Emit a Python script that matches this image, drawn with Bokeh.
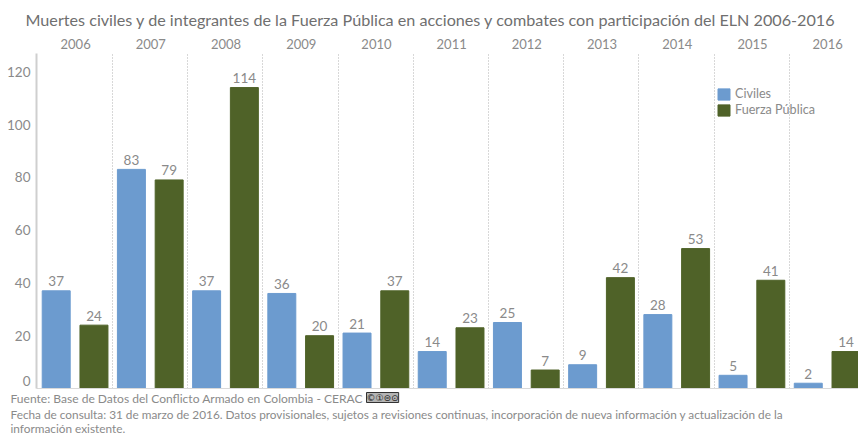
from bokeh.embed import file_html
from bokeh.models import (ColumnDataSource, FixedTicker, Grid, Legend, LegendItem,
                          LinearAxis, Range1d, Title)
from bokeh.plotting import figure
from bokeh.resources import INLINE

years = [2006, 2007, 2008, 2009, 2010, 2011, 2012, 2013, 2014, 2015, 2016]
civiles = [37, 83, 37, 36, 21, 14, 25, 9, 28, 5, 2]
fuerza_publica = [24, 79, 114, 20, 37, 23, 7, 42, 53, 41, 14]
y_ticks = [20, 40, 60, 80, 100, 120]

title_text = "Muertes civiles y de integrantes de la Fuerza Pública en acciones y combates con participación del ELN 2006-2016"
source_line = "Fuente: Base de Datos del Conflicto Armado en Colombia - CERAC"
note_lines = [
    "Fecha de consulta: 31 de marzo de 2016. Datos provisionales, sujetos a revisiones continuas, incorporación de nueva información y actualización de la",
    "información existente.",
]
badge_text = "©①⊜⊙"

FONT = "Lato"
GREY = "#8a8a8a"
BLUE = "#6c9bcf"
GREEN = "#4f6228"
W, H = 858, 435
FRAME_LEFT, FRAME_BOTTOM = 36, 388

p = figure(width=W, height=H, output_backend="svg", toolbar_location=None,
           x_range=Range1d(-0.01, 10.92), y_range=Range1d(0, 126.9),
           min_border_left=FRAME_LEFT, min_border_right=0, min_border_top=53,
           min_border_bottom=H - FRAME_BOTTOM, x_axis_location=None, y_axis_location=None)
p.title = None
p.outline_line_color = None
p.ygrid.visible = False
p.xgrid.visible = False

idx = list(range(len(years)))
blue_src = ColumnDataSource(dict(x=[i + 0.252 for i in idx], top=civiles, label=[str(v) for v in civiles]))
green_src = ColumnDataSource(dict(x=[i + 0.754 for i in idx], top=fuerza_publica, label=[str(v) for v in fuerza_publica]))

r_blue = p.vbar(x="x", top="top", width=0.372, bottom=0, source=blue_src, color=BLUE)
r_green = p.vbar(x="x", top="top", width=0.372, bottom=0, source=green_src, color=GREEN)

for src in (blue_src, green_src):
    p.text(x="x", y="top", text="label", source=src, text_align="center", text_baseline="middle",
           text_color=GREY, text_font_size="13.5px", y_offset=-9.5, text_font={"value": FONT})

# Year labels along the top, centred in each group
top_axis = LinearAxis(ticker=FixedTicker(ticks=[i + 0.51 for i in idx]),
                      major_label_overrides={i + 0.51: str(y) for i, y in zip(idx, years)},
                      axis_line_color=None, major_tick_line_color=None, minor_tick_line_color=None,
                      major_tick_out=0, major_tick_in=0,
                      major_label_text_color=GREY, major_label_text_font=FONT,
                      major_label_text_font_size="13px", major_label_standoff=5)
p.add_layout(top_axis, "above")

# Dotted separators between years
p.add_layout(Grid(dimension=0, ticker=FixedTicker(ticks=idx[1:]), grid_line_color="#b0b0b0",
                  grid_line_dash="1 2", grid_line_width=1))

# The zero label sits a little above the baseline, clear of the source line
ZERO_LABEL_AT = 3
left_axis = LinearAxis(ticker=FixedTicker(ticks=[ZERO_LABEL_AT] + y_ticks),
                       major_label_overrides={ZERO_LABEL_AT: "0"},
                       axis_line_color="#cfcfcf", axis_line_width=2,
                       major_tick_line_color=None, minor_tick_line_color=None,
                       major_tick_out=0, major_tick_in=0,
                       major_label_text_color=GREY, major_label_text_font=FONT,
                       major_label_text_font_size="13.5px", major_label_standoff=6)
p.add_layout(left_axis, "left")

baseline = LinearAxis(ticker=FixedTicker(ticks=[]), axis_line_color="#d9d9d9", axis_line_width=1,
                      major_tick_line_color=None, minor_tick_line_color=None,
                      major_tick_out=0, major_tick_in=0, major_label_text_font_size="0px",
                      major_label_standoff=0)
p.add_layout(baseline, "below")

legend = Legend(items=[LegendItem(label="Civiles", renderers=[r_blue]),
                       LegendItem(label="Fuerza Pública", renderers=[r_green])],
                location=(680, 271), background_fill_alpha=0, border_line_color=None,
                glyph_width=15, glyph_height=14, label_text_color=GREY, label_text_font=FONT,
                label_text_font_size="12.6px", spacing=1, padding=4, margin=0, label_standoff=4,
                label_height=12)
p.add_layout(legend, "center")

p.add_layout(Title(text=title_text, align="left", offset=25 - FRAME_LEFT, standoff=14,
                   text_font=FONT, text_font_size="16.16px", text_font_style="normal",
                   text_color="#6f6f6f"), "above")


def footer(text, standoff, offset=10, size="11.8px", color=GREY, font=FONT, **kw):
    # A large negative standoff leaves the row with no height and drops its text below the frame
    p.add_layout(Title(text=text, align="left", offset=offset - FRAME_LEFT, standoff=standoff,
                       text_font=font, text_font_size=size, text_font_style="normal",
                       text_color=color, **kw), "below")


footer(source_line, -34, size="12.05px")
footer(badge_text, -28, offset=366, size="9px", color="#222222", font="DejaVu Sans",
       background_fill_color="#b4b4b4", border_line_color="#333333")
footer(note_lines[0], -67)
footer(note_lines[1], -94)

open("out.html", "w").write(file_html(p, INLINE))
